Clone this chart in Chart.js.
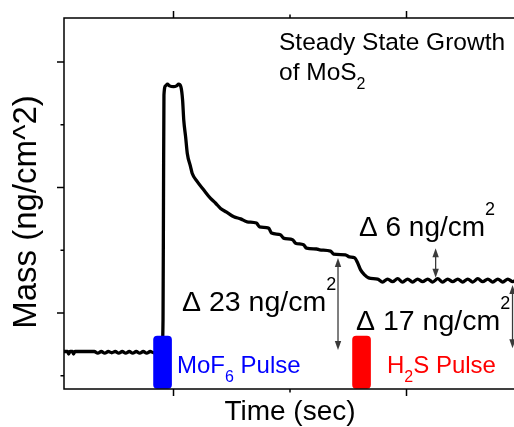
<!DOCTYPE html>
<html><head><meta charset="utf-8">
<script src="https://cdn.jsdelivr.net/npm/chart.js@4.4.0/dist/chart.umd.min.js"></script>
<style>
html,body{margin:0;padding:0;background:#fff;overflow:hidden;width:514px;height:427px}
#wrap{position:absolute;left:0;top:0;width:540px;height:427px}
</style>
</head><body><div id="wrap"><canvas id="c" width="540" height="427"></canvas></div>
<script>
// ---- data ----
const timeSec = [5.30,5.45,5.50,5.56,5.66,5.71,5.77,6.00,6.30,6.60,6.75,6.90,7.05,7.20,7.35,7.50,7.65,7.80,7.95,8.10,8.25,8.40,8.55,8.70,8.85,9.00,9.15,9.30,9.50,
  9.55,9.57,9.59,9.66,9.74,9.83,10.00,10.13,10.22,10.32,10.39,10.44,10.52,10.59,10.73,10.80,11.02,11.30,11.59,11.80,12.02,12.28,12.59,12.88,13.16,
  13.56,13.69,14.08,14.21,14.59,14.72,15.11,15.24,15.58,15.71,16.14,16.27,16.74,16.87,17.38,17.55,17.77,17.90,18.03,18.20,18.37,18.76,
  18.97,19.19,19.40,19.62,19.83,20.05,20.26,20.48,20.69,20.91,21.12,21.34,21.55,21.77,21.98,22.20,22.41,22.63,22.84,23.06,23.27,23.49,23.70,23.92,24.13,24.35,24.56,24.78,24.99,25.21,25.40];
const massNg = [20.8,20.8,20.2,20.8,20.8,20.2,20.8,20.8,20.8,20.8,20.4,20.8,20.4,20.8,20.5,20.8,20.4,20.8,20.4,20.8,20.4,20.8,20.4,20.8,20.4,20.8,20.5,20.8,20.7,
  28.3,57.0,82.1,84.3,84.7,84.3,84.1,84.3,84.7,84.0,80.9,76.1,72.1,68.2,65.0,63.4,61.4,59.4,57.4,56.3,55.0,54.1,53.0,52.5,51.8,
  51.5,50.6,50.3,49.1,48.7,47.9,47.5,46.7,46.3,45.5,45.3,45.1,44.8,44.1,43.9,43.4,43.2,42.0,40.3,39.1,38.4,38.1,
  37.4,38.1,37.5,38.2,37.4,38.1,37.4,38.1,37.5,38.1,37.4,38.2,37.4,38.1,37.5,38.1,37.4,38.1,37.4,38.2,37.5,38.1,37.4,38.1,37.4,38.1,37.5,38.1,37.4,38.1,37.5];
const pulseTimes = [9.53, 18.07];
const pulseColors = ['#0000ff', '#ff0000'];
const pulseRange = [11.95, 24.5];
const xMajorTicks = [10, 20];
const xMinorTicks = [15];
const yMajorTicks = [30, 60, 90];
const yMinorTicks = [15, 45, 75];
// delta arrows: time, upper level, lower level
const arrowTimes = [17.06, 21.25, 24.55];
const arrowTop = [43.15, 45.5, 36.7];
const arrowBottom = [21.16, 38.4, 21.6];

const FONT = "'Liberation Sans', Arial, Helvetica, sans-serif";

function rich(ctx, x, y, parts, color) {
  ctx.fillStyle = color; ctx.textAlign = 'left'; ctx.textBaseline = 'alphabetic';
  let cx = x;
  for (const p of parts) {
    ctx.font = p.s + 'px ' + FONT;
    ctx.fillText(p.t, cx, y + (p.dy || 0));
    cx += ctx.measureText(p.t).width;
  }
}

function arrow(ctx, px, y1, y2) {
  ctx.save();
  ctx.strokeStyle = '#3a3a3a'; ctx.fillStyle = '#3a3a3a'; ctx.lineWidth = 1.3;
  ctx.beginPath(); ctx.moveTo(px, y1 + 6); ctx.lineTo(px, y2 - 6); ctx.stroke();
  ctx.beginPath(); ctx.moveTo(px, y1); ctx.lineTo(px - 3.2, y1 + 9); ctx.lineTo(px + 3.2, y1 + 9); ctx.closePath(); ctx.fill();
  ctx.beginPath(); ctx.moveTo(px, y2); ctx.lineTo(px - 3.2, y2 - 9); ctx.lineTo(px + 3.2, y2 - 9); ctx.closePath(); ctx.fill();
  ctx.restore();
}

const decor = {
  id: 'decor',
  afterDraw(chart) {
    const { ctx, chartArea: a, scales: { x, y } } = chart;
    ctx.save();
    ctx.strokeStyle = '#000'; ctx.lineWidth = 1.5;
    ctx.strokeRect(a.left, a.top, a.right - a.left, a.bottom - a.top);
    ctx.beginPath();
    const tx = (vals, len) => vals.forEach(v => {
      const p = x.getPixelForValue(v);
      ctx.moveTo(p, a.bottom); ctx.lineTo(p, a.bottom + len);
      ctx.moveTo(p, a.top); ctx.lineTo(p, a.top - len);
    });
    const ty = (vals, len) => vals.forEach(v => {
      const p = y.getPixelForValue(v);
      if (p < a.top || p > a.bottom) return;
      ctx.moveTo(a.left, p); ctx.lineTo(a.left - len, p);
    });
    tx(xMajorTicks, 7); tx(xMinorTicks, 3.5);
    ty(yMajorTicks, 7); ty(yMinorTicks, 3.5);
    ctx.stroke();

    // axis titles
    ctx.fillStyle = '#000';
    ctx.font = '28px ' + FONT;
    ctx.textAlign = 'center'; ctx.textBaseline = 'alphabetic';
    ctx.fillText('Time (sec)', 290, 420);
    ctx.save();
    ctx.font = '33px ' + FONT;
    ctx.translate(27, 212); ctx.rotate(-Math.PI / 2);
    ctx.textBaseline = 'middle';
    ctx.fillText('Mass (ng/cm^2)', 0, 0);
    ctx.restore();

    // arrows
    arrowTimes.forEach((t, i) => arrow(ctx, x.getPixelForValue(t), y.getPixelForValue(arrowTop[i]), y.getPixelForValue(arrowBottom[i])));

    // annotations
    rich(ctx, 279, 50, [{ t: 'Steady State Growth', s: 24.5 }], '#000');
    rich(ctx, 279, 80, [{ t: 'of MoS', s: 24.5 }, { t: '2', s: 16, dy: 9 }], '#000');
    rich(ctx, 359, 236, [{ t: '\u0394 6 ng/cm', s: 28 }, { t: '2', s: 18, dy: -21 }], '#000');
    rich(ctx, 182, 311, [{ t: '\u0394 23 ng/cm', s: 28.5 }, { t: '2', s: 18, dy: -21 }], '#000');
    rich(ctx, 356, 330, [{ t: '\u0394 17 ng/cm', s: 28.5 }, { t: '2', s: 18, dy: -21 }], '#000');
    rich(ctx, 177, 373, [{ t: 'MoF', s: 24 }, { t: '6', s: 16, dy: 9 }, { t: ' Pulse', s: 24 }], '#0000ff');
    rich(ctx, 387, 373, [{ t: 'H', s: 24 }, { t: '2', s: 16, dy: 9 }, { t: 'S Pulse', s: 24 }], '#ff0000');
    ctx.restore();
  }
};

new Chart(document.getElementById('c'), {
  type: 'line',
  data: {
    datasets: [
      {
        type: 'line', label: 'Mass', order: 1,
        data: timeSec.map((t, i) => ({ x: t, y: massNg[i] })),
        borderColor: '#000', borderWidth: 3.3, pointRadius: 0,
        cubicInterpolationMode: 'monotone', fill: false
      },
      {
        type: 'bar', label: 'Pulses', order: 0,
        data: pulseTimes.map(t => ({ x: t, y: pulseRange.slice() })),
        backgroundColor: pulseColors, borderWidth: 0,
        barThickness: 18, borderRadius: 4, borderSkipped: false
      }
    ]
  },
  options: {
    responsive: false, animation: false,
    layout: { padding: { left: 64, top: 18, right: 10, bottom: 38 } },
    scales: {
      x: { type: 'linear', display: false, min: 5.3, max: 25.3, offset: false },
      y: { type: 'linear', display: false, min: 11.83, max: 100.52 }
    },
    plugins: { legend: { display: false }, tooltip: { enabled: false } }
  },
  plugins: [decor]
});
</script>
</body></html>
